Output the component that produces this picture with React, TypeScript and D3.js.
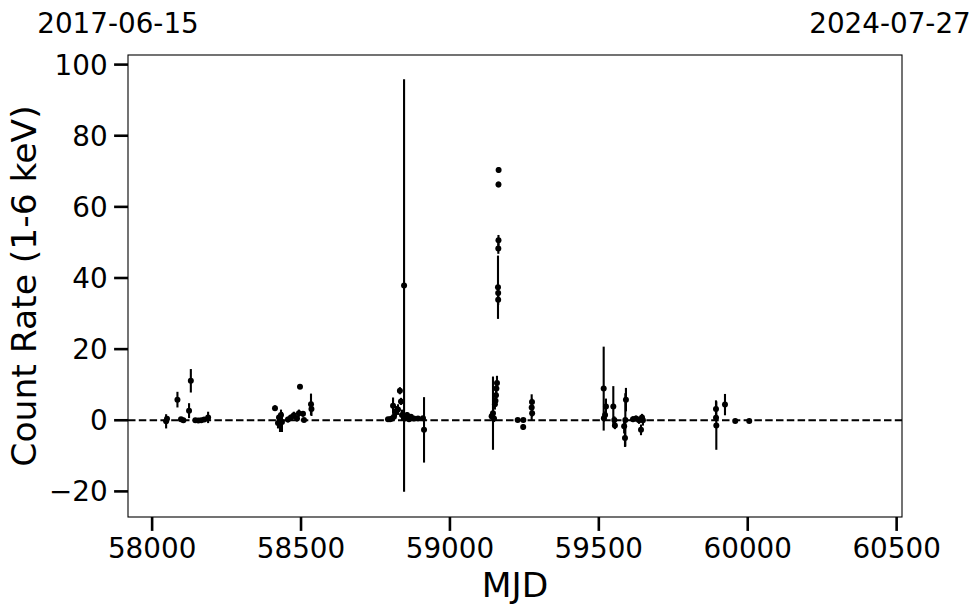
import React from "react";
import * as d3 from "d3";

const mjd = [
  58047, 58050, 58085, 58097, 58105, 58124, 58130, 58145, 58155, 58165, 58175, 58188,
  58412.6, 58422.7, 58426, 58429.4, 58432.8, 58436, 58456, 58466, 58476, 58486.5, 58493, 58496.5, 58506.6, 58510, 58533.5, 58535,
  58792, 58799, 58805.5, 58809, 58812, 58819, 58825.6, 58832, 58835.7, 58839, 58846, 58849, 58856, 58862.5, 58869, 58879, 58892.7, 58909.5, 58913,
  59140, 59144.6, 59148, 59151, 59153, 59154.7, 59156, 59158, 59161.4, 59162, 59162, 59162.5, 59163, 59163, 59163.5, 59227.5, 59246, 59246.5, 59274.5, 59275.5, 59276,
  59516.3, 59517, 59524, 59521, 59548.6, 59552, 59554, 59585, 59587.8, 59589, 59591, 59614.7, 59624.8, 59635, 59641.6, 59645, 59648,
  59893.4, 59893.5, 59894.5, 59923.6, 59958, 60005,
];
const rate = [
  -0.3, 0.4, 5.8, 0.3, 0.0, 2.7, 11.1, 0.0, -0.1, 0.0, 0.2, 0.8,
  3.4, -0.8, 0.8, -1.3, 1.5, -0.5, 0.2, 0.8, 1.4, 0.5, 2.0, 9.4, 1.8, 0.1, 4.5, 3.2,
  0.3, 0.3, 0.5, 4.1, 1.0, 2.5, 3.0, 8.3, 5.3, 1.5, 37.9, 0.5, 1.5, 0.3, 1.0, 0.5, 0.5, 0.6, -2.7,
  1.1, 2.0, 0.5, 4.5, 5.5, 7.0, 8.9, 10.5, 37.4, 35.8, 33.9, 48.3, 50.6, 66.3, 70.4, 0.1, -1.9, 0.1, 3.6, 5.1, 2.0,
  8.9, 0.6, 3.9, 1.5, 3.9, 0.1, -1.5, -1.7, -5.0, 0.1, 5.8, 0.3, 0.5, 0.0, -2.7, 0.8, 0.0,
  3.2, 0.7, -1.5, 4.4, -0.2, -0.2,
];
const rateErr = [
  2.0, 0.8, 2.2, 0.6, 0.5, 2.1, 3.3, 0.5, 0.5, 0.6, 0.5, 1.6,
  0.8, 1.5, 1.0, 2.0, 1.5, 2.8, 0.8, 0.8, 1.0, 0.8, 1.0, 0.5, 0.8, 0.5, 3.0, 2.0,
  0.5, 0.5, 0.5, 2.3, 1.0, 1.5, 1.5, 1.0, 1.0, 1.5, 58, 0.5, 0.8, 0.5, 0.5, 0.5, 0.5, 0.5, 9.2,
  0.8, 10.3, 1.0, 1.5, 1.5, 1.5, 2.0, 2.0, 8.9, 1.5, 1.5, 1.5, 1.5, 0.8, 0.8, 0.5, 0.8, 0.5, 3.7, 1.0, 1.0,
  11.8, 1.0, 2.2, 1.0, 5.7, 1.0, 1.0, 2.0, 2.5, 7.5, 3.3, 0.8, 0.8, 1.0, 1.5, 1.0, 1.5,
  2.4, 1.0, 6.8, 3.0, 0.3, 0.3,
];

const xTicks = [58000, 58500, 59000, 59500, 60000, 60500];
const yTicks = [-20, 0, 20, 40, 60, 80, 100];
const dateLabels = ["2017-06-15", "2024-07-27"];
const xDomain = [57919, 60518];
const yDomain = [-27.2, 102.7];

const W = 980;
const H = 613;
const L = 128, R = 902, T = 55, B = 517;
const FONT = "DejaVu Sans, sans-serif";
const TICK = 13.9;
const fmt = (v: number) => (v < 0 ? "\u2212" + Math.abs(v) : String(v));

export default function App() {
  const x = d3.scaleLinear().domain(xDomain).range([L, R]);
  const y = d3.scaleLinear().domain(yDomain).range([B, T]);
  const pts = mjd.map((m, i) => ({ m, v: rate[i], e: rateErr[i] }));
  return (
    <svg width={W} height={H} style={{ position: "absolute", left: 0, top: 0, background: "#fff" }} fontFamily={FONT}>
      <defs>
        <clipPath id="plotclip">
          <rect x={L} y={T} width={R - L} height={B - T} />
        </clipPath>
      </defs>
      <rect x={0} y={0} width={W} height={H} fill="#fff" />
      <line x1={L} x2={R} y1={y(0)} y2={y(0)} stroke="#000" strokeWidth={1.8} strokeDasharray="7.5,3.3" />
      <g clipPath="url(#plotclip)">
        {pts.map((p, i) => (
          <line key={"e" + i} x1={x(p.m)} x2={x(p.m)} y1={y(p.v - p.e)} y2={y(p.v + p.e)} stroke="#000" strokeWidth={2.1} />
        ))}
        {pts.map((p, i) => (
          <circle key={"c" + i} cx={x(p.m)} cy={y(p.v)} r={3} fill="#000" />
        ))}
      </g>
      <rect x={L} y={T} width={R - L} height={B - T} fill="none" stroke="#000" strokeWidth={1.1} />
      {xTicks.map((t) => (
        <g key={"xt" + t}>
          <line x1={x(t)} x2={x(t)} y1={B} y2={B + TICK} stroke="#000" strokeWidth={2.6} />
          <text x={x(t)} y={557.5} textAnchor="middle" fontSize={27.8} fill="#000">{t}</text>
        </g>
      ))}
      {yTicks.map((t) => (
        <g key={"yt" + t}>
          <line x1={L} x2={L - TICK} y1={y(t)} y2={y(t)} stroke="#000" strokeWidth={2.6} />
          <text x={L - TICK - 6.5} y={y(t) + 10} textAnchor="end" fontSize={27.8} fill="#000">{fmt(t)}</text>
        </g>
      ))}
      <text x={(L + R) / 2} y={597} textAnchor="middle" fontSize={34.5} fill="#000">MJD</text>
      <text transform={`translate(36,${(T + B) / 2}) rotate(-90)`} textAnchor="middle" fontSize={34.5} fill="#000">
        Count Rate (1-6 keV)
      </text>
      <text x={x(xDomain[0]) - 10} y={33} textAnchor="middle" fontSize={27.8} fill="#000">{dateLabels[0]}</text>
      <text x={x(xDomain[1]) - 12} y={33} textAnchor="middle" fontSize={27.8} fill="#000">{dateLabels[1]}</text>
    </svg>
  );
}
